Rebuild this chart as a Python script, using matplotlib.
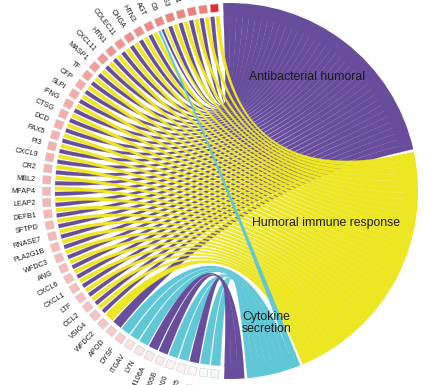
import numpy as np
import matplotlib
matplotlib.use("Agg")
import matplotlib.pyplot as plt
from matplotlib.patches import Polygon, Wedge
from matplotlib.colors import LinearSegmentedColormap

# genes, top of circle going counter-clockwise to the bottom
genes = [
    "DEFA5", "S100A7", "DEFA4", "C5AR1", "PRSS3", "C6", "AGT", "HTN3", "CHGA",
    "COLEC11", "HTN1", "CXCL11", "MASP1", "TF", "CFP", "SLPI", "IFNG", "CTSG",
    "DCD", "PAX5", "PI3", "CXCL9", "CR2", "MBL2", "MFAP4", "LEAP2", "DEFB1",
    "SFTPD", "RNASE7", "PLA2G1B", "WFDC3", "ANG", "CXCL6", "CXCL1", "LTF",
    "CCL2", "VSIG4", "WFDC2", "APOD", "DYSF", "ITGAV", "LYN", "TMEM106A",
    "FAM65B", "CD200", "GPR35", "F2RL1", "TLR4", "CD33",
]
logfc = [
    4.2, 2.6, 2.6, 2.5, 2.5, 2.4, 2.4, 2.3, 2.3, 2.2, 2.2, 2.1, 2.0, 1.9,
    1.7, 1.7, 1.7, 1.65, 1.65, 1.6, 1.6, 1.6, 1.55, 1.55, 1.5, 1.5, 1.5,
    1.45, 1.45, 1.4, 1.4, 1.4, 1.35, 1.35, 1.3, 1.3, 1.25, 1.2, 1.1, 1.0,
    0.6, 0.5, 0.45, 0.4, 0.3, 0.2, 0.1, -0.2, -0.3,
]
# term codes per gene: A antibacterial, H humoral, C cytokine, D 4th term
gene_terms = ["HA"] * 5 + ["HAC"] + ["HA"] * 31 + [
    "H", "A", "C", "C", "C", "D", "D", "C", "C", "D", "C", "C",
]

term_codes = ["A", "H", "C", "D"]
term_labels = ["Antibacterial humoral", "Humoral immune response",
               "Cytokine\nsecretion", ""]
term_colors = ["#684D9D", "#ECE623", "#5FC7D6", "#684D9D"]

# layout (pixels, centre of circle at origin)
CX, CY = 230, 191
R_IN, R_SQ, R_OUT, R_LAB = 175, 183.5, 188, 195
SQ = 8.0
GENE_START, GENE_STEP, SUB_GAP = 93.1, 3.55, 0.5
TERM_START, TERM_END, TERM_GAP = 92.1, -91.8, 0.8
label_pos = {"A": (137, 56), "H": (101, -18.5), "C": (137, -74.7)}

cmap = LinearSegmentedColormap.from_list("fc", ["#3A9BC9", "#FFFFFF", "#E8302A"])


def pt(r, a):
    t = np.deg2rad(a)
    return np.array([r * np.cos(t), r * np.sin(t)])


def arc(r, a0, a1, n=20):
    t = np.deg2rad(np.linspace(a0, a1, n))
    return np.column_stack([r * np.cos(t), r * np.sin(t)])


def bez(p0, p2, n=60):
    t = np.linspace(0, 1, n)[:, None]
    return (1 - t) ** 2 * p0 + t ** 2 * p2


fig = plt.figure(figsize=(4.26, 3.85), dpi=100)
ax = fig.add_axes([0, 0, 1, 1])
ax.set_xlim(-CX, 426 - CX)
ax.set_ylim(-(385 - CY), CY)
ax.set_aspect("equal")
ax.axis("off")

# gene side sub-arcs
gene_slots = {}
for k, codes in enumerate(gene_terms):
    a0 = GENE_START + k * GENE_STEP + SUB_GAP / 2
    w = (GENE_STEP - SUB_GAP * len(codes)) / len(codes)
    for j, c in enumerate(codes):
        s = a0 + j * (w + SUB_GAP)
        gene_slots[(k, c)] = (s, s + w)

# term side arcs
counts = {c: sum(c in g for g in gene_terms) for c in term_codes}
unit = (TERM_START - TERM_END - TERM_GAP * (len(term_codes) - 1)) / sum(counts.values())
term_range = {}
top = TERM_START
for c in term_codes:
    term_range[c] = (top - counts[c] * unit, top)
    top -= counts[c] * unit + TERM_GAP

for c, col in zip(term_codes, term_colors):
    lo, hi = term_range[c]
    ax.add_patch(Wedge((0, 0), R_OUT, lo, hi, width=R_OUT - R_IN + 1,
                       facecolor=col, edgecolor="none", zorder=1))

# ribbons
for c in ["A", "H", "C", "D"]:
    col = term_colors[term_codes.index(c)]
    lo, hi = term_range[c]
    members = [k for k, g in enumerate(gene_terms) if c in g]
    for s, k in enumerate(members):
        g0, g1 = gene_slots[(k, c)]
        th = hi - s * unit
        tl = th - unit
        pts = np.vstack([
            arc(R_IN, g0, g1),
            bez(pt(R_IN, g1), pt(R_IN, tl)),
            arc(R_IN, tl, th),
            bez(pt(R_IN, th), pt(R_IN, g0)),
        ])
        ax.add_patch(Polygon(pts, closed=True, facecolor=col,
                             edgecolor=col, linewidth=0.15, zorder=2))

# gene squares and labels
for k, (name, fc) in enumerate(zip(genes, logfc)):
    a = GENE_START + (k + 0.5) * GENE_STEP
    t = np.deg2rad(a)
    er = np.array([np.cos(t), np.sin(t)])
    et = np.array([-np.sin(t), np.cos(t)])
    c0 = R_SQ * er
    h = SQ / 2
    corners = [c0 + h * er + h * et, c0 - h * er + h * et,
               c0 - h * er - h * et, c0 + h * er - h * et]
    ax.add_patch(Polygon(corners, closed=True,
                         facecolor=cmap((fc + 4.2) / 8.4),
                         edgecolor="#c4c4c4", linewidth=0.35, zorder=3))
    lp = pt(R_LAB, a)
    ax.text(lp[0], lp[1], name, rotation=a - 180, rotation_mode="anchor",
            ha="right", va="center", fontsize=5.2, family="Liberation Sans",
            color="#1a1a1a", zorder=4)

# term labels
for c, lab in zip(term_codes, term_labels):
    if c in label_pos:
        r, a = label_pos[c]
        p = pt(r, a)
        ax.text(p[0], p[1], lab, ha="center", va="center", fontsize=8.8,
                family="Liberation Sans", color="#1a1a1a", linespacing=1.05,
                zorder=5)

fig.savefig("out.png", dpi=100)
